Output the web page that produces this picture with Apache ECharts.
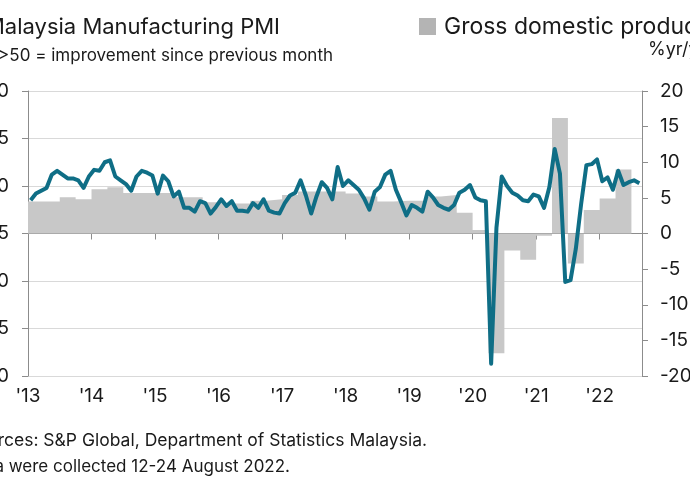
<!DOCTYPE html>
<html><head><meta charset="utf-8">
<script src="https://cdn.jsdelivr.net/npm/echarts@6/dist/echarts.min.js"></script>
<style>html,body{margin:0;padding:0;background:#fff;overflow:hidden}#c{width:690px;height:500px}</style>
</head><body><div id="c"></div>
<script>
// Year tick labels (one per January, starting Jan 2013)
const yearLabels = ["'13","'14","'15","'16","'17","'18","'19","'20","'21","'22"];
// Malaysia Manufacturing PMI, monthly, Jan 2013 .. Aug 2022
const pmi2013 = [48.5,49.2,49.5,49.8,51.2,51.6,51.2,50.8,50.8,50.6,49.8,51.0];
const pmi2014 = [51.7,51.6,52.5,52.7,51.0,50.6,50.2,49.5,51.0,51.6,51.4,51.1];
const pmi2015 = [49.2,51.1,50.5,48.9,49.4,47.7,47.7,47.3,48.4,48.2,47.1,47.8];
const pmi2016 = [48.6,47.9,48.4,47.4,47.4,47.3,48.2,47.7,48.6,47.4,47.2,47.1];
const pmi2017 = [48.2,49.0,49.3,50.6,49.0,47.1,48.9,50.4,49.8,48.6,52.0,50.0];
const pmi2018 = [50.6,50.1,49.6,48.7,47.5,49.4,49.9,51.2,51.6,49.6,48.3,46.9];
const pmi2019 = [48.0,47.7,47.3,49.4,48.8,48.0,47.7,47.5,48.0,49.3,49.6,50.1];
const pmi2020 = [48.8,48.5,48.4,31.3,45.6,51.0,50.0,49.3,49.0,48.5,48.4,49.1];
const pmi2021 = [48.9,47.7,49.9,53.9,51.3,39.9,40.1,43.4,48.1,52.2,52.3,52.8];
const pmi2022 = [50.5,50.9,49.6,51.6,50.1,50.4,50.6,50.3];
// GDP %yr/yr, quarterly, Q1 2013 .. Q2 2022
const gdpQ = [
  4.5,4.5,5.1,4.8,
  6.2,6.5,5.7,5.7,
  5.7,5.1,5.1,4.4,
  4.2,4.2,4.6,4.8,
  5.4,5.9,5.9,5.9,
  5.6,5.2,4.5,4.6,
  4.6,5.2,5.4,2.9,
  0.5,-16.8,-2.4,-3.7,
  -0.3,16.2,-4.2,3.3,
  4.9,9.0
];

const pmi = [].concat(pmi2013,pmi2014,pmi2015,pmi2016,pmi2017,pmi2018,pmi2019,pmi2020,pmi2021,pmi2022);
const pmiData = pmi.map((v,i)=>[i+0.5, v]);
const gdpData = gdpQ.map((v,q)=>[q*3, v]);
gdpData.push([gdpQ.length*3, gdpQ[gdpQ.length-1]]);

const FONT = 'Inter';
const axisColor = '#8c8c8c';
const txt = '#1a1a1a';

const chart = echarts.init(document.getElementById('c'), null, {renderer:'canvas'});
chart.setOption({
  animation:false,
  backgroundColor:'#ffffff',
  grid:{left:28,right:48,top:91,bottom:124,containLabel:false,outerBoundsMode:'none'},
  xAxis:{
    type:'value',min:0,max:116,interval:12,
    axisLine:{show:true,lineStyle:{color:axisColor,width:1}},
    axisTick:{show:true,length:6,lineStyle:{color:axisColor}},
    axisLabel:{fontFamily:FONT,fontSize:19,color:txt,margin:11,
      formatter:v=> (v%12===0 && yearLabels[v/12]!==undefined) ? yearLabels[v/12] : ''},
    splitLine:{show:false}
  },
  yAxis:[
    {type:'value',position:'left',min:30,max:60,interval:5,
     axisLine:{show:true,lineStyle:{color:axisColor}},
     axisTick:{show:true,length:6,lineStyle:{color:axisColor}},
     axisLabel:{fontFamily:FONT,fontSize:19,color:txt,margin:19},
     splitLine:{show:true,lineStyle:{color:'#d9d9d9',width:1}}},
    {type:'value',position:'right',min:-20,max:20,interval:5,
     axisLine:{show:true,lineStyle:{color:axisColor}},
     axisTick:{show:true,length:6,lineStyle:{color:axisColor}},
     axisLabel:{fontFamily:FONT,fontSize:19,color:txt,margin:18},
     splitLine:{show:false}}
  ],
  series:[
    {name:'Gross domestic product',type:'line',yAxisIndex:1,step:'end',
     data:gdpData,showSymbol:false,
     lineStyle:{width:0,opacity:0},
     areaStyle:{color:'#c8c8c8',opacity:1},z:1},
    {name:'Malaysia Manufacturing PMI',type:'line',yAxisIndex:0,
     data:pmiData,showSymbol:false,
     lineStyle:{color:'#0f6e86',width:4,join:'round'},z:3}
  ],
  graphic:[
    {type:'text',x:280,y:27,style:{text:'Malaysia Manufacturing PMI',font:'22px '+FONT,fill:txt,textAlign:'right',textVerticalAlign:'middle'}},
    {type:'text',x:333,y:56,style:{text:'sa, >50 = improvement since previous month',font:'17px '+FONT,fill:txt,textAlign:'right',textVerticalAlign:'middle'}},
    {type:'rect',shape:{x:419,y:18,width:17,height:17},style:{fill:'#b4b4b4'}},
    {type:'text',x:444,y:27,style:{text:'Gross domestic product',font:'23px '+FONT,fill:txt,textAlign:'left',textVerticalAlign:'middle'}},
    {type:'text',x:648,y:50,style:{text:'%yr/yr',font:'18px '+FONT,fill:txt,textAlign:'left',textVerticalAlign:'middle'}},
    {type:'text',x:427,y:441,style:{text:'Sources: S&P Global, Department of Statistics Malaysia.',font:'17.5px '+FONT,fill:txt,textAlign:'right',textVerticalAlign:'middle'}},
    {type:'text',x:290,y:467,style:{text:'Data were collected 12-24 August 2022.',font:'17px '+FONT,fill:txt,textAlign:'right',textVerticalAlign:'middle'}}
  ]
});
</script></body></html>
